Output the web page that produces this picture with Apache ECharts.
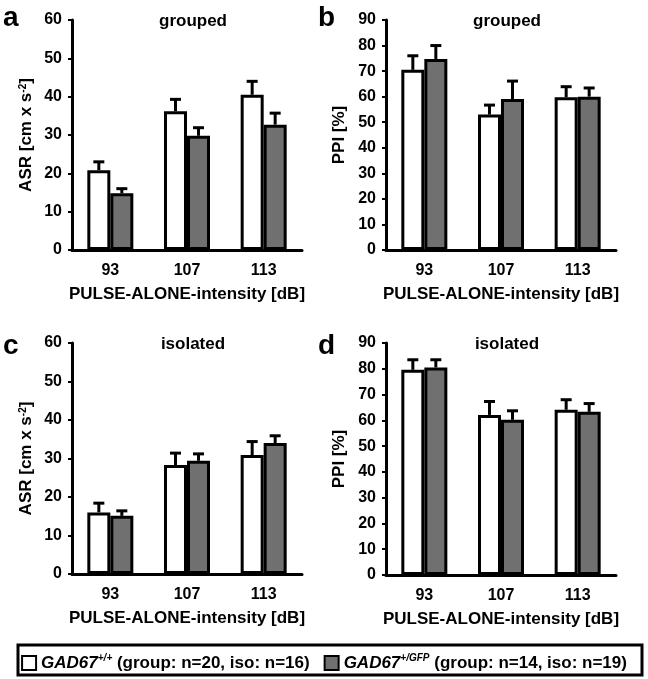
<!DOCTYPE html>
<html><head><meta charset="utf-8">
<script src="https://cdn.jsdelivr.net/npm/echarts@6/dist/echarts.min.js"></script>
<style>html,body{margin:0;padding:0;background:#fff}#c{width:648px;height:679px}</style>
</head><body><div id="c"></div>
<script>
const categories = ['93', '107', '113'];
// panel a: grouped ASR
const aWt = [20.8, 36.2, 40.5], aWtSem = [2.2, 3.1, 3.5];
const aHet = [14.8, 29.8, 32.7], aHetSem = [1.2, 2.1, 3.0];
// panel b: grouped PPI
const bWt = [70.5, 53.0, 59.8], bWtSem = [5.5, 3.7, 4.1];
const bHet = [74.7, 59.1, 60.0], bHetSem = [5.3, 7.0, 3.4];
// panel c: isolated ASR
const cWt = [16.0, 28.3, 30.9], cWtSem = [2.4, 3.1, 3.5];
const cHet = [15.1, 29.4, 34.0], cHetSem = [1.3, 1.8, 1.9];
// panel d: isolated PPI
const dWt = [79.6, 62.1, 64.1], dWtSem = [3.9, 5.2, 3.9];
const dHet = [80.5, 60.2, 63.3], dHetSem = [3.0, 3.5, 3.2];
const panelTitles = ['grouped', 'grouped', 'isolated', 'isolated'];
const panelLetters = ['a', 'b', 'c', 'd'];
const xTitle = 'PULSE-ALONE-intensity [dB]';
const legendNames = ['GAD67+/+', 'GAD67+/GFP'];

const FONT = '"Liberation Sans", Arial, sans-serif';
const panels = [
  {wt:aWt, wts:aWtSem, het:aHet, hets:aHetSem, max:60, yname:'ASR [cm x s{sup|-2}]', gap:37},
  {wt:bWt, wts:bWtSem, het:bHet, hets:bHetSem, max:90, yname:'PPI [%]', gap:38},
  {wt:cWt, wts:cWtSem, het:cHet, hets:cHetSem, max:60, yname:'ASR [cm x s{sup|-2}]', gap:37},
  {wt:dWt, wts:dWtSem, het:dHet, hets:dHetSem, max:90, yname:'PPI [%]', gap:38}
];
const gridPos = [
  {left:72, top:20, width:230, height:230},
  {left:386, top:20, width:230, height:230},
  {left:72, top:343, width:230, height:231},
  {left:386, top:343, width:230, height:232}
];
const letterPos = [[3, 4], [318, 4], [3, 332], [318, 332]];
const grids = [], xAxes = [], yAxes = [], series = [], graphics = [];
panels.forEach((p, i) => {
  grids.push(gridPos[i]);
  xAxes.push({
    type:'category', gridIndex:i, data:categories,
    axisLine:{lineStyle:{color:'#000', width:3}},
    axisTick:{length:5, lineStyle:{color:'#000', width:2}},
    axisLabel:{color:'#000', fontWeight:'bold', fontSize:16, fontFamily:FONT, margin:13},
    name:xTitle, nameLocation:'middle', nameGap:36,
    nameTextStyle:{color:'#000', fontWeight:'bold', fontSize:17, fontFamily:FONT}
  });
  yAxes.push({
    type:'value', gridIndex:i, min:0, max:p.max, interval:10,
    splitLine:{show:false},
    axisLine:{show:true, lineStyle:{color:'#000', width:3}},
    axisTick:{show:true, length:4, lineStyle:{color:'#000', width:2}},
    axisLabel:{color:'#000', fontWeight:'bold', fontSize:16, fontFamily:FONT, margin:10},
    name:p.yname, nameLocation:'middle', nameGap:p.gap,
    nameTextStyle:{color:'#000', fontWeight:'bold', fontSize:17, fontFamily:FONT,
      rich:{sup:{fontSize:10, fontWeight:'bold', fontFamily:FONT, verticalAlign:'top', lineHeight:10}}}
  });
  const mk = (name, vals, color) => ({
    type:'bar', name:name, xAxisIndex:i, yAxisIndex:i, data:vals,
    barGap:'0%', barCategoryGap:'40%',
    itemStyle:{color:color, borderColor:'#000', borderWidth:3},
    z:2
  });
  series.push(mk(legendNames[0], p.wt, '#ffffff'));
  series.push(mk(legendNames[1], p.het, '#707070'));
  const err = (vals, sems, side) => ({
    type:'custom', xAxisIndex:i, yAxisIndex:i, z:1,
    data: vals.map((v, k) => [k, v, sems[k]]),
    encode:{x:0, y:1},
    renderItem:(params, api) => {
      const x = api.value(0), v = api.value(1), e = api.value(2);
      const w = api.size([1, 0])[0];
      const off = side * 0.15 * w;
      const p0 = api.coord([x, v]);
      const p1 = api.coord([x, v + e]);
      const cx = p0[0] + off;
      const st = {stroke:'#000', lineWidth:3};
      return {type:'group', children:[
        {type:'line', shape:{x1:cx, y1:p0[1], x2:cx, y2:p1[1]}, style:st},
        {type:'line', shape:{x1:cx - 5.5, y1:p1[1], x2:cx + 5.5, y2:p1[1]}, style:st}
      ]};
    }
  });
  series.push(err(p.wt, p.wts, -1));
  series.push(err(p.het, p.hets, 1));
  const g = gridPos[i];
  graphics.push({type:'text', x:g.left + g.width/2 + 6, y:g.top + 1,
    style:{text:panelTitles[i], fill:'#000', font:'bold 17px ' + FONT, textAlign:'center', textVerticalAlign:'middle'}});
  graphics.push({type:'text', left:letterPos[i][0], top:letterPos[i][1],
    style:{text:panelLetters[i], fill:'#000', font:'bold 28px ' + FONT}});
});
graphics.push({type:'rect', shape:{x:18, y:645, width:624, height:30},
  style:{fill:'none', stroke:'#000', lineWidth:3}, z:0});

const legendRich = {
  i:{fontStyle:'italic', fontWeight:'bold', fontSize:17, fontFamily:FONT, lineHeight:20, color:'#000'},
  s:{fontStyle:'italic', fontWeight:'bold', fontSize:10, fontFamily:FONT, lineHeight:10, verticalAlign:'top', color:'#000'},
  n:{fontWeight:'bold', fontSize:17, fontFamily:FONT, lineHeight:20, color:'#000'}
};
const legendText = {
  'GAD67+/+':'{i|GAD67}{s|+/+}{n| (group: n=20, iso: n=16)}',
  'GAD67+/GFP':'{i|GAD67}{s|+/GFP}{n| (group: n=14, iso: n=19)}'
};
const option = {
  animation:false,
  backgroundColor:'#fff',
  grid:grids, xAxis:xAxes, yAxis:yAxes, series:series,
  graphic:graphics,
  legend:{
    data:legendNames, left:'center', top:648, itemWidth:14, itemHeight:14, itemGap:14,
    icon:'rect',
    formatter:(n) => legendText[n],
    textStyle:{rich:legendRich, fontWeight:'bold', fontSize:17, fontFamily:FONT, color:'#000'}
  }
};
const chart = echarts.init(document.getElementById('c'));
chart.setOption(option);
</script></body></html>
